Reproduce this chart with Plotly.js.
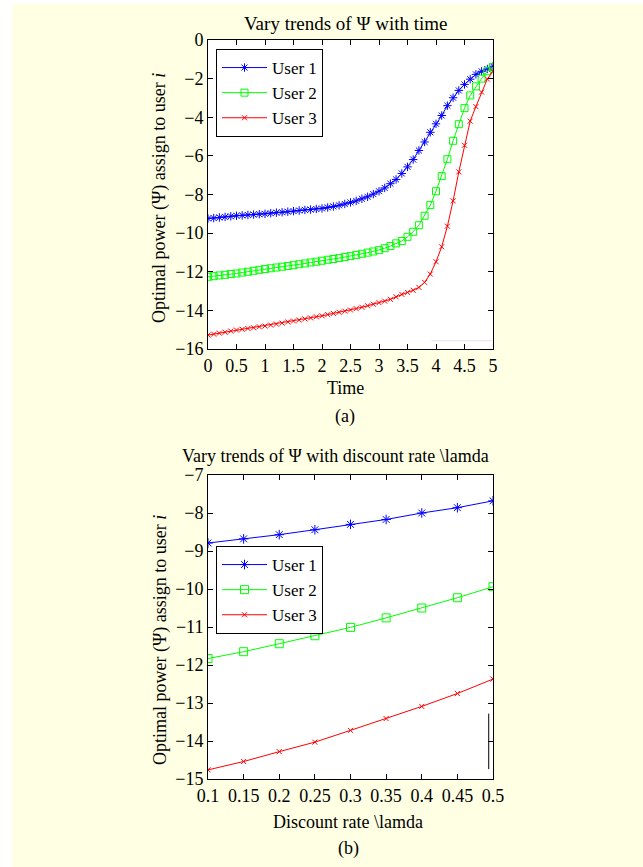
<!DOCTYPE html>
<html><head><meta charset="utf-8">
<script src="https://cdn.plot.ly/plotly-3.0.1.min.js"></script>
<style>html,body{margin:0;padding:0;background:#fff}</style>
</head><body><div id="chart" style="width:643px;height:867px"></div>
<script>
// ---- Panel (a): Psi vs time ----
const timeX = [0,0.1,0.2,0.3,0.4,0.5,0.6,0.7,0.8,0.9,1,1.1,1.2,1.3,1.4,1.5,1.6,1.7,1.8,1.9,2,2.1,2.2,2.3,2.4,2.5,2.6,2.7,2.8,2.9,3,3.1,3.2,3.3,3.4,3.5,3.6,3.7,3.8,3.9,4,4.1,4.2,4.3,4.4,4.5,4.6,4.7,4.8,4.9,5];
const user1Time = [-9.24,-9.22,-9.19,-9.16,-9.13,-9.10,-9.08,-9.06,-9.04,-9.02,-9.00,-8.97,-8.94,-8.92,-8.89,-8.86,-8.83,-8.80,-8.78,-8.75,-8.72,-8.67,-8.62,-8.56,-8.49,-8.41,-8.33,-8.22,-8.12,-7.98,-7.83,-7.66,-7.44,-7.22,-6.91,-6.57,-6.19,-5.72,-5.28,-4.78,-4.34,-3.91,-3.40,-2.99,-2.61,-2.30,-2.03,-1.78,-1.62,-1.50,-1.36];
const user2Time = [-12.26,-12.23,-12.19,-12.16,-12.12,-12.09,-12.04,-12.00,-11.95,-11.90,-11.86,-11.82,-11.78,-11.74,-11.70,-11.66,-11.61,-11.57,-11.52,-11.48,-11.43,-11.38,-11.34,-11.29,-11.24,-11.19,-11.13,-11.07,-11.01,-10.95,-10.88,-10.78,-10.67,-10.53,-10.41,-10.19,-9.93,-9.59,-9.10,-8.55,-7.83,-7.05,-6.17,-5.22,-4.36,-3.53,-2.87,-2.40,-2.00,-1.62,-1.40];
const user3Time = [-15.28,-15.23,-15.18,-15.13,-15.07,-15.02,-14.98,-14.94,-14.90,-14.85,-14.81,-14.76,-14.71,-14.66,-14.60,-14.55,-14.50,-14.44,-14.39,-14.33,-14.28,-14.22,-14.16,-14.10,-14.04,-13.98,-13.91,-13.84,-13.76,-13.68,-13.60,-13.52,-13.43,-13.30,-13.17,-13.07,-12.96,-12.81,-12.55,-12.12,-11.48,-10.71,-9.64,-8.33,-6.83,-5.45,-4.20,-3.45,-2.70,-2.02,-1.62];
const timeTicks = [0,0.5,1,1.5,2,2.5,3,3.5,4,4.5,5];
const timeTickText = ['0','0.5','1','1.5','2','2.5','3','3.5','4','4.5','5'];
const psiTicksA = [-16,-14,-12,-10,-8,-6,-4,-2,0];
const strayA_x = [3.92,4.98];
const strayA_y = [-15.57,-15.57];

// ---- Panel (b): Psi vs discount rate ----
const rateX = [0.1,0.15,0.2,0.25,0.3,0.35,0.4,0.45,0.5];
const user1Rate = [-8.79,-8.68,-8.57,-8.44,-8.30,-8.17,-8.00,-7.86,-7.68];
const user2Rate = [-11.83,-11.65,-11.44,-11.23,-11.01,-10.76,-10.50,-10.23,-9.94];
const user3Rate = [-14.76,-14.54,-14.28,-14.03,-13.72,-13.41,-13.09,-12.75,-12.37];
const rateTicks = [0.1,0.15,0.2,0.25,0.3,0.35,0.4,0.45,0.5];
const rateTickText = ['0.1','0.15','0.2','0.25','0.3','0.35','0.4','0.45','0.5'];
const psiTicksB = [-15,-14,-13,-12,-11,-10,-9,-8,-7];
const strayB_x = [0.494,0.494];
const strayB_y = [-13.28,-14.74];

const names = ['User 1','User 2','User 3'];
const colors = ['#0000FF','#00FF00','#FF0000'];
const symbols = ['asterisk-open','square-open','x-thin-open'];

const W = 643, H = 867;
const px = p => p / W;
const py = p => 1 - p / H;
const FONT = 'Liberation Serif, Times New Roman, serif';

function series(x, ys, xa, ya, leg, msize) {
  return ys.map((y, i) => ({
    x: x, y: y, type: 'scatter', mode: 'lines+markers', name: names[i],
    xaxis: xa, yaxis: ya, legend: leg,
    line: {color: colors[i], width: 1},
    marker: {symbol: symbols[i], color: colors[i], size: msize[i], line: {color: colors[i], width: 1}}
  }));
}

const traces = [
  ...series(timeX, [user1Time, user2Time, user3Time], 'x', 'y', 'legend', [7, 7, 5]),
  {x: strayA_x, y: strayA_y, type: 'scatter', mode: 'lines', xaxis: 'x', yaxis: 'y', showlegend: false, line: {color: '#e4e4e4', width: 1}, hoverinfo: 'skip'},
  ...series(rateX, [user1Rate, user2Rate, user3Rate], 'x2', 'y2', 'legend2', [8, 8, 5]),
  {x: strayB_x, y: strayB_y, type: 'scatter', mode: 'lines', xaxis: 'x2', yaxis: 'y2', showlegend: false, line: {color: '#000000', width: 1}, hoverinfo: 'skip'}
];

const axisBase = {
  showline: true, linecolor: 'black', linewidth: 1, mirror: 'allticks',
  ticks: 'inside', ticklen: 5, tickcolor: 'black', tickwidth: 1,
  showgrid: false, zeroline: false,
  tickfont: {family: FONT, size: 18, color: 'black'}
};

const ann = (text, x, y, extra) => Object.assign({
  text: text, xref: 'paper', yref: 'paper', x: px(x), y: py(y),
  xanchor: 'center', yanchor: 'middle', showarrow: false,
  font: {family: FONT, size: 18, color: 'black'}
}, extra || {});

const yTitle = 'Optimal power (Ψ) assign to user <i>i</i>';
const legendBase = {xanchor: 'left', yanchor: 'top', bgcolor: '#FFFFFF', bordercolor: '#000000', borderwidth: 1,
  font: {family: FONT, size: 17, color: 'black'}, itemwidth: 45, tracegroupgap: 0};

const layout = {
  width: W, height: H,
  margin: {l: 0, r: 0, t: 0, b: 0},
  paper_bgcolor: '#FFFFE3',
  plot_bgcolor: '#FFFFFF',
  showlegend: true,
  xaxis: Object.assign({}, axisBase, {domain: [px(208), px(493)], anchor: 'y', range: [0, 5], tickmode: 'array', tickvals: timeTicks, ticktext: timeTickText}),
  yaxis: Object.assign({}, axisBase, {domain: [py(349), py(40)], anchor: 'x', range: [-16, 0], tickmode: 'array', tickvals: psiTicksA}),
  xaxis2: Object.assign({}, axisBase, {domain: [px(208), px(493)], anchor: 'y2', range: [0.1, 0.5], tickmode: 'array', tickvals: rateTicks, ticktext: rateTickText}),
  yaxis2: Object.assign({}, axisBase, {domain: [py(779), py(475)], anchor: 'x2', range: [-15, -7], tickmode: 'array', tickvals: psiTicksB}),
  legend: Object.assign({}, legendBase, {x: px(216), y: py(49)}),
  legend2: Object.assign({}, legendBase, {x: px(216), y: py(546)}),
  shapes: [
    {type: 'rect', xref: 'paper', yref: 'paper', x0: 0, x1: px(12), y0: 0, y1: 1, fillcolor: '#FFFFFF', line: {width: 0}, layer: 'below'},
    {type: 'rect', xref: 'paper', yref: 'paper', x0: 0, x1: 1, y0: py(4), y1: 1, fillcolor: '#FFFFFF', line: {width: 0}, layer: 'below'}
  ],
  annotations: [
    ann('Vary trends of Ψ with time', 345, 24, {font: {family: FONT, size: 19, color: 'black'}}),
    ann('Time', 345, 388),
    ann('(a)', 345, 416),
    ann(yTitle, 160, 198, {textangle: -90}),
    ann('Vary trends of Ψ with discount rate \\lamda', 335, 456),
    ann('Discount rate \\lamda', 348, 822),
    ann('(b)', 348, 848),
    ann(yTitle, 160, 640, {textangle: -90})
  ]
};

Plotly.newPlot('chart', traces, layout, {staticPlot: true, displayModeBar: false});
</script></body></html>
